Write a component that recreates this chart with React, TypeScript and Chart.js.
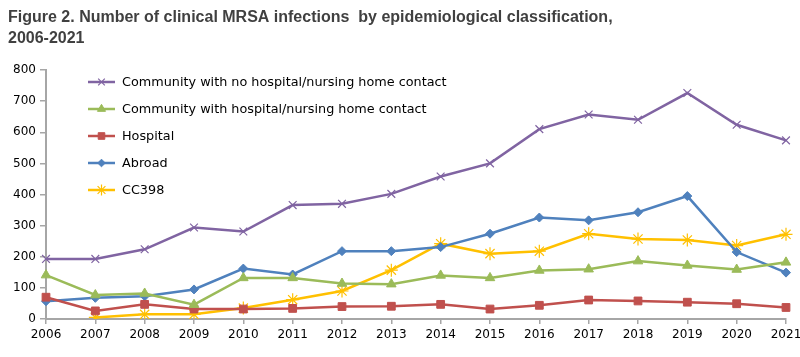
import React, { useEffect, useRef } from 'react';
import { Chart, registerables } from 'chart.js';
import { drawPoint } from 'chart.js/helpers';

Chart.register(...registerables);

const years = ['2006', '2007', '2008', '2009', '2010', '2011', '2012', '2013', '2014', '2015', '2016', '2017', '2018', '2019', '2020', '2021'];
const noContact = [193, 193, 224, 294, 281, 366, 370, 402, 458, 500, 610, 657, 640, 726, 624, 574];
const withContact = [141, 77, 82, 46, 132, 132, 114, 112, 140, 132, 156, 160, 186, 172, 159, 182];
const hospital = [70, 26, 47, 32, 32, 34, 40, 41, 47, 32, 44, 61, 58, 54, 49, 37];
const abroad = [57, 68, 73, 95, 162, 143, 218, 218, 231, 274, 326, 317, 343, 395, 215, 149];
const cc398 = [null, 5, 15, 15, 35, 62, 90, 157, 242, 210, 218, 274, 257, 254, 236, 272];

const seriesNames = [
  'Community with no hospital/nursing home contact',
  'Community with hospital/nursing home contact',
  'Hospital',
  'Abroad',
  'CC398',
];
const titleLines = [
  'Figure 2. Number of clinical MRSA infections  by epidemiological classification,',
  '2006-2021',
];

const FONT = 'DejaVu Sans';

const insideLegend = {
  id: 'insideLegend',
  afterDraw(chart: any) {
    const ctx = chart.ctx;
    const area = chart.chartArea;
    const x0 = area.left + 42;
    const x1 = area.left + 69;
    const xm = (x0 + x1) / 2;
    const tx = area.left + 76;
    chart.data.datasets.forEach((ds: any, i: number) => {
      const y = area.top + 12 + i * 27;
      ctx.save();
      ctx.strokeStyle = ds.borderColor;
      ctx.lineWidth = ds.borderWidth;
      ctx.beginPath();
      ctx.moveTo(x0, y);
      ctx.lineTo(x1, y);
      ctx.stroke();
      ctx.fillStyle = ds.pointBackgroundColor;
      ctx.strokeStyle = ds.pointBorderColor;
      ctx.lineWidth = ds.pointBorderWidth;
      drawPoint(ctx, { pointStyle: ds.pointStyle, rotation: 0, radius: ds.pointRadius * 0.85, borderWidth: ds.pointBorderWidth }, xm, y);
      ctx.fillStyle = '#000000';
      ctx.font = `12.8px "${FONT}"`;
      ctx.textBaseline = 'middle';
      ctx.textAlign = 'left';
      ctx.fillText(ds.label, tx, y + 1);
      ctx.restore();
    });
  },
};

function mk(label: string, data: any[], color: string, style: string, radius: number, bw: number, fill: string) {
  return {
    label,
    data,
    borderColor: color,
    backgroundColor: color,
    borderWidth: 2.5,
    pointStyle: style,
    pointRadius: radius,
    pointHoverRadius: radius,
    pointBackgroundColor: fill,
    pointBorderColor: color,
    pointBorderWidth: bw,
    tension: 0,
    spanGaps: false,
  };
}

export default function App() {
  const ref = useRef<HTMLCanvasElement>(null);
  useEffect(() => {
    if (!ref.current) return;
    const axisColor = '#a6a6a6';
    const chart = new Chart(ref.current, {
      type: 'line',
      data: {
        labels: years,
        datasets: [
          mk(seriesNames[0], noContact, '#8064A2', 'crossRot', 5.5, 1.2, '#8064A2'),
          mk(seriesNames[1], withContact, '#9BBB59', 'triangle', 5.5, 1, '#9BBB59'),
          mk(seriesNames[2], hospital, '#C0504D', 'rect', 5.5, 1, '#C0504D'),
          mk(seriesNames[3], abroad, '#4F81BD', 'rectRot', 4.5, 1, '#4F81BD'),
          mk(seriesNames[4], cc398, '#FFC000', 'star', 6.5, 1.2, '#FFC000'),
        ] as any,
      },
      options: {
        responsive: false,
        animation: false,
        layout: { padding: { left: 8, right: 14, top: 0, bottom: 0 } },
        plugins: {
          legend: { display: false },
          tooltip: { enabled: false },
          title: {
            display: true,
            text: titleLines,
            align: 'start',
            color: '#404040',
            font: { family: 'Liberation Sans', size: 16, weight: 'bold', lineHeight: '21px' } as any,
            padding: { top: 7, bottom: 21 },
          },
        },
        scales: {
          x: {
            type: 'category',
            offset: false,
            grid: { display: true, drawOnChartArea: false, drawTicks: true, tickLength: 5, color: axisColor, lineWidth: 1.5 },
            border: { display: true, color: axisColor, width: 2 },
            ticks: { color: '#000000', font: { family: FONT, size: 12 }, padding: 4, maxRotation: 0, autoSkip: false },
            afterFit: (s: any) => { s.height = 38; s.paddingRight = 0; s.paddingLeft = 0; },
          },
          y: {
            min: 0,
            max: 800,
            grid: { display: true, drawOnChartArea: false, drawTicks: true, tickLength: 6, color: axisColor, lineWidth: 1.5 },
            border: { display: true, color: axisColor, width: 2 },
            ticks: { stepSize: 100, color: '#000000', font: { family: FONT, size: 12 }, padding: 4 },
            afterFit: (s: any) => { s.width = 38; },
          },
        },
      },
      plugins: [insideLegend],
    });
    return () => chart.destroy();
  }, []);
  return (
    <div style={{ position: 'absolute', left: 0, top: 0, width: 800, height: 357, background: '#ffffff' }}>
      <canvas ref={ref} width={800} height={357} style={{ display: 'block', width: 800, height: 357 }} />
    </div>
  );
}
